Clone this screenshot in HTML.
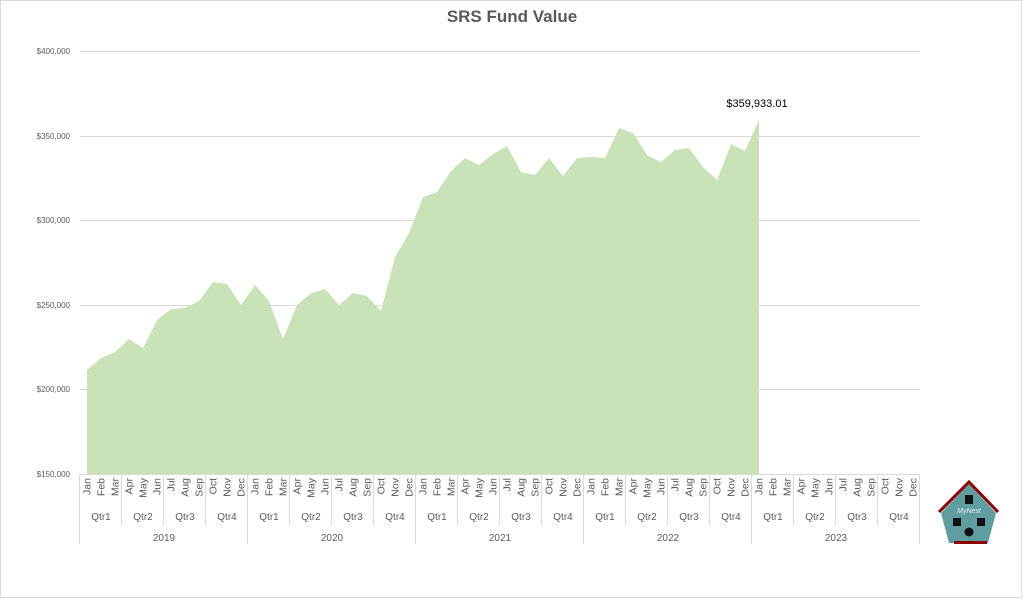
<!DOCTYPE html>
<html><head><meta charset="utf-8"><style>
html,body{margin:0;padding:0;background:#fff;}
svg{display:block;font-family:"Liberation Sans",sans-serif;}
.m{font-size:10.5px;fill:#595959;}
.q{font-size:10px;fill:#595959;text-anchor:middle;}
.y{font-size:10px;fill:#595959;text-anchor:middle;}
.v{font-size:8px;fill:#595959;text-anchor:end;}
</style></head><body>
<svg width="1024" height="601" viewBox="0 0 1024 601">
<rect x="0.5" y="0.5" width="1021" height="597" fill="#fff" stroke="#d9d9d9"/>
<text x="512" y="22" text-anchor="middle" font-size="17" font-weight="bold" fill="#595959">SRS Fund Value</text>
<g stroke="#d9d9d9" stroke-width="1">
<line x1="80" y1="51.5" x2="920" y2="51.5"/><line x1="80" y1="136.5" x2="920" y2="136.5"/>
<line x1="80" y1="220.5" x2="920" y2="220.5"/><line x1="80" y1="305.5" x2="920" y2="305.5"/>
<line x1="80" y1="389.5" x2="920" y2="389.5"/>
</g>
<g class="v">
<text x="70" y="54">$400,000</text><text x="70" y="139">$350,000</text><text x="70" y="223">$300,000</text>
<text x="70" y="308">$250,000</text><text x="70" y="392">$200,000</text><text x="70" y="477">$150,000</text>
</g>
<polygon fill="#c9e2b8" points="87,474 87,370 101,358 115,352 129,339 143,348 157,320 171,309 185,308 199,301 213,282 227,284 241,305 255,285 269,301 283,339 297,305 311,293 325,289 339,305 353,293 367,296 381,311 395,257 409,233 423,197 437,192 451,171 465,158 479,165 493,154 507,146 521,172 535,175 549,158 563,176 577,158 591,157 605,158 619,128 633,133 647,155 661,162 675,150 689,148 703,167 717,180 731,144 745,151 759,120 759,474"/>
<text x="757" y="107" text-anchor="middle" font-size="11" fill="#000">$359,933.01</text>
<g stroke="#d9d9d9" stroke-width="1">
<line x1="80" y1="474.5" x2="920" y2="474.5"/>
<line x1="79.5" y1="474" x2="79.5" y2="544"/><line x1="247.5" y1="474" x2="247.5" y2="544"/>
<line x1="415.5" y1="474" x2="415.5" y2="544"/><line x1="583.5" y1="474" x2="583.5" y2="544"/>
<line x1="751.5" y1="474" x2="751.5" y2="544"/><line x1="919.5" y1="474" x2="919.5" y2="544"/>
</g>
<g stroke="#d9d9d9">
<line x1="121.5" y1="474" x2="121.5" y2="525"/><line x1="163.5" y1="474" x2="163.5" y2="525"/><line x1="205.5" y1="474" x2="205.5" y2="525"/>
<line x1="289.5" y1="474" x2="289.5" y2="525"/><line x1="331.5" y1="474" x2="331.5" y2="525"/><line x1="373.5" y1="474" x2="373.5" y2="525"/>
<line x1="457.5" y1="474" x2="457.5" y2="525"/><line x1="499.5" y1="474" x2="499.5" y2="525"/><line x1="541.5" y1="474" x2="541.5" y2="525"/>
<line x1="625.5" y1="474" x2="625.5" y2="525"/><line x1="667.5" y1="474" x2="667.5" y2="525"/><line x1="709.5" y1="474" x2="709.5" y2="525"/>
<line x1="793.5" y1="474" x2="793.5" y2="525"/><line x1="835.5" y1="474" x2="835.5" y2="525"/><line x1="877.5" y1="474" x2="877.5" y2="525"/>
</g>
<g class="m" text-anchor="end">
<g transform="translate(0,0)">
<text transform="translate(87,478) rotate(-90)" dy="3.5">Jan</text><text transform="translate(101,478) rotate(-90)" dy="3.5">Feb</text><text transform="translate(115,478) rotate(-90)" dy="3.5">Mar</text><text transform="translate(129,478) rotate(-90)" dy="3.5">Apr</text><text transform="translate(143,478) rotate(-90)" dy="3.5">May</text><text transform="translate(157,478) rotate(-90)" dy="3.5">Jun</text><text transform="translate(171,478) rotate(-90)" dy="3.5">Jul</text><text transform="translate(185,478) rotate(-90)" dy="3.5">Aug</text><text transform="translate(199,478) rotate(-90)" dy="3.5">Sep</text><text transform="translate(213,478) rotate(-90)" dy="3.5">Oct</text><text transform="translate(227,478) rotate(-90)" dy="3.5">Nov</text><text transform="translate(241,478) rotate(-90)" dy="3.5">Dec</text>
</g>
<g transform="translate(168,0)">
<text transform="translate(87,478) rotate(-90)" dy="3.5">Jan</text><text transform="translate(101,478) rotate(-90)" dy="3.5">Feb</text><text transform="translate(115,478) rotate(-90)" dy="3.5">Mar</text><text transform="translate(129,478) rotate(-90)" dy="3.5">Apr</text><text transform="translate(143,478) rotate(-90)" dy="3.5">May</text><text transform="translate(157,478) rotate(-90)" dy="3.5">Jun</text><text transform="translate(171,478) rotate(-90)" dy="3.5">Jul</text><text transform="translate(185,478) rotate(-90)" dy="3.5">Aug</text><text transform="translate(199,478) rotate(-90)" dy="3.5">Sep</text><text transform="translate(213,478) rotate(-90)" dy="3.5">Oct</text><text transform="translate(227,478) rotate(-90)" dy="3.5">Nov</text><text transform="translate(241,478) rotate(-90)" dy="3.5">Dec</text>
</g>
<g transform="translate(336,0)">
<text transform="translate(87,478) rotate(-90)" dy="3.5">Jan</text><text transform="translate(101,478) rotate(-90)" dy="3.5">Feb</text><text transform="translate(115,478) rotate(-90)" dy="3.5">Mar</text><text transform="translate(129,478) rotate(-90)" dy="3.5">Apr</text><text transform="translate(143,478) rotate(-90)" dy="3.5">May</text><text transform="translate(157,478) rotate(-90)" dy="3.5">Jun</text><text transform="translate(171,478) rotate(-90)" dy="3.5">Jul</text><text transform="translate(185,478) rotate(-90)" dy="3.5">Aug</text><text transform="translate(199,478) rotate(-90)" dy="3.5">Sep</text><text transform="translate(213,478) rotate(-90)" dy="3.5">Oct</text><text transform="translate(227,478) rotate(-90)" dy="3.5">Nov</text><text transform="translate(241,478) rotate(-90)" dy="3.5">Dec</text>
</g>
<g transform="translate(504,0)">
<text transform="translate(87,478) rotate(-90)" dy="3.5">Jan</text><text transform="translate(101,478) rotate(-90)" dy="3.5">Feb</text><text transform="translate(115,478) rotate(-90)" dy="3.5">Mar</text><text transform="translate(129,478) rotate(-90)" dy="3.5">Apr</text><text transform="translate(143,478) rotate(-90)" dy="3.5">May</text><text transform="translate(157,478) rotate(-90)" dy="3.5">Jun</text><text transform="translate(171,478) rotate(-90)" dy="3.5">Jul</text><text transform="translate(185,478) rotate(-90)" dy="3.5">Aug</text><text transform="translate(199,478) rotate(-90)" dy="3.5">Sep</text><text transform="translate(213,478) rotate(-90)" dy="3.5">Oct</text><text transform="translate(227,478) rotate(-90)" dy="3.5">Nov</text><text transform="translate(241,478) rotate(-90)" dy="3.5">Dec</text>
</g>
<g transform="translate(672,0)">
<text transform="translate(87,478) rotate(-90)" dy="3.5">Jan</text><text transform="translate(101,478) rotate(-90)" dy="3.5">Feb</text><text transform="translate(115,478) rotate(-90)" dy="3.5">Mar</text><text transform="translate(129,478) rotate(-90)" dy="3.5">Apr</text><text transform="translate(143,478) rotate(-90)" dy="3.5">May</text><text transform="translate(157,478) rotate(-90)" dy="3.5">Jun</text><text transform="translate(171,478) rotate(-90)" dy="3.5">Jul</text><text transform="translate(185,478) rotate(-90)" dy="3.5">Aug</text><text transform="translate(199,478) rotate(-90)" dy="3.5">Sep</text><text transform="translate(213,478) rotate(-90)" dy="3.5">Oct</text><text transform="translate(227,478) rotate(-90)" dy="3.5">Nov</text><text transform="translate(241,478) rotate(-90)" dy="3.5">Dec</text>
</g>
</g>
<g class="q">
<text x="101" y="520">Qtr1</text><text x="143" y="520">Qtr2</text><text x="185" y="520">Qtr3</text><text x="227" y="520">Qtr4</text>
<text x="269" y="520">Qtr1</text><text x="311" y="520">Qtr2</text><text x="353" y="520">Qtr3</text><text x="395" y="520">Qtr4</text>
<text x="437" y="520">Qtr1</text><text x="479" y="520">Qtr2</text><text x="521" y="520">Qtr3</text><text x="563" y="520">Qtr4</text>
<text x="605" y="520">Qtr1</text><text x="647" y="520">Qtr2</text><text x="689" y="520">Qtr3</text><text x="731" y="520">Qtr4</text>
<text x="773" y="520">Qtr1</text><text x="815" y="520">Qtr2</text><text x="857" y="520">Qtr3</text><text x="899" y="520">Qtr4</text>
</g>
<g class="y">
<text x="164" y="541">2019</text><text x="332" y="541">2020</text><text x="500" y="541">2021</text><text x="668" y="541">2022</text><text x="836" y="541">2023</text>
</g>
<g>
<polygon points="969,484 996,513 988,543 949,543 941,513" fill="#5f9ea0"/>
<polyline points="939,512 969,482 998,512" fill="none" stroke="#8b0000" stroke-width="3"/>
<rect x="954" y="541" width="33" height="3" fill="#8b0000"/>
<rect x="965" y="495" width="8" height="9" fill="#111"/>
<rect x="953" y="518" width="8" height="8" fill="#111"/>
<rect x="977" y="518" width="8" height="8" fill="#111"/>
<circle cx="969" cy="532" r="4.5" fill="#111"/>
<text x="969" y="513" text-anchor="middle" font-size="7" font-style="italic" fill="#eee">MyNest</text>
</g>
</svg>
</body></html>
